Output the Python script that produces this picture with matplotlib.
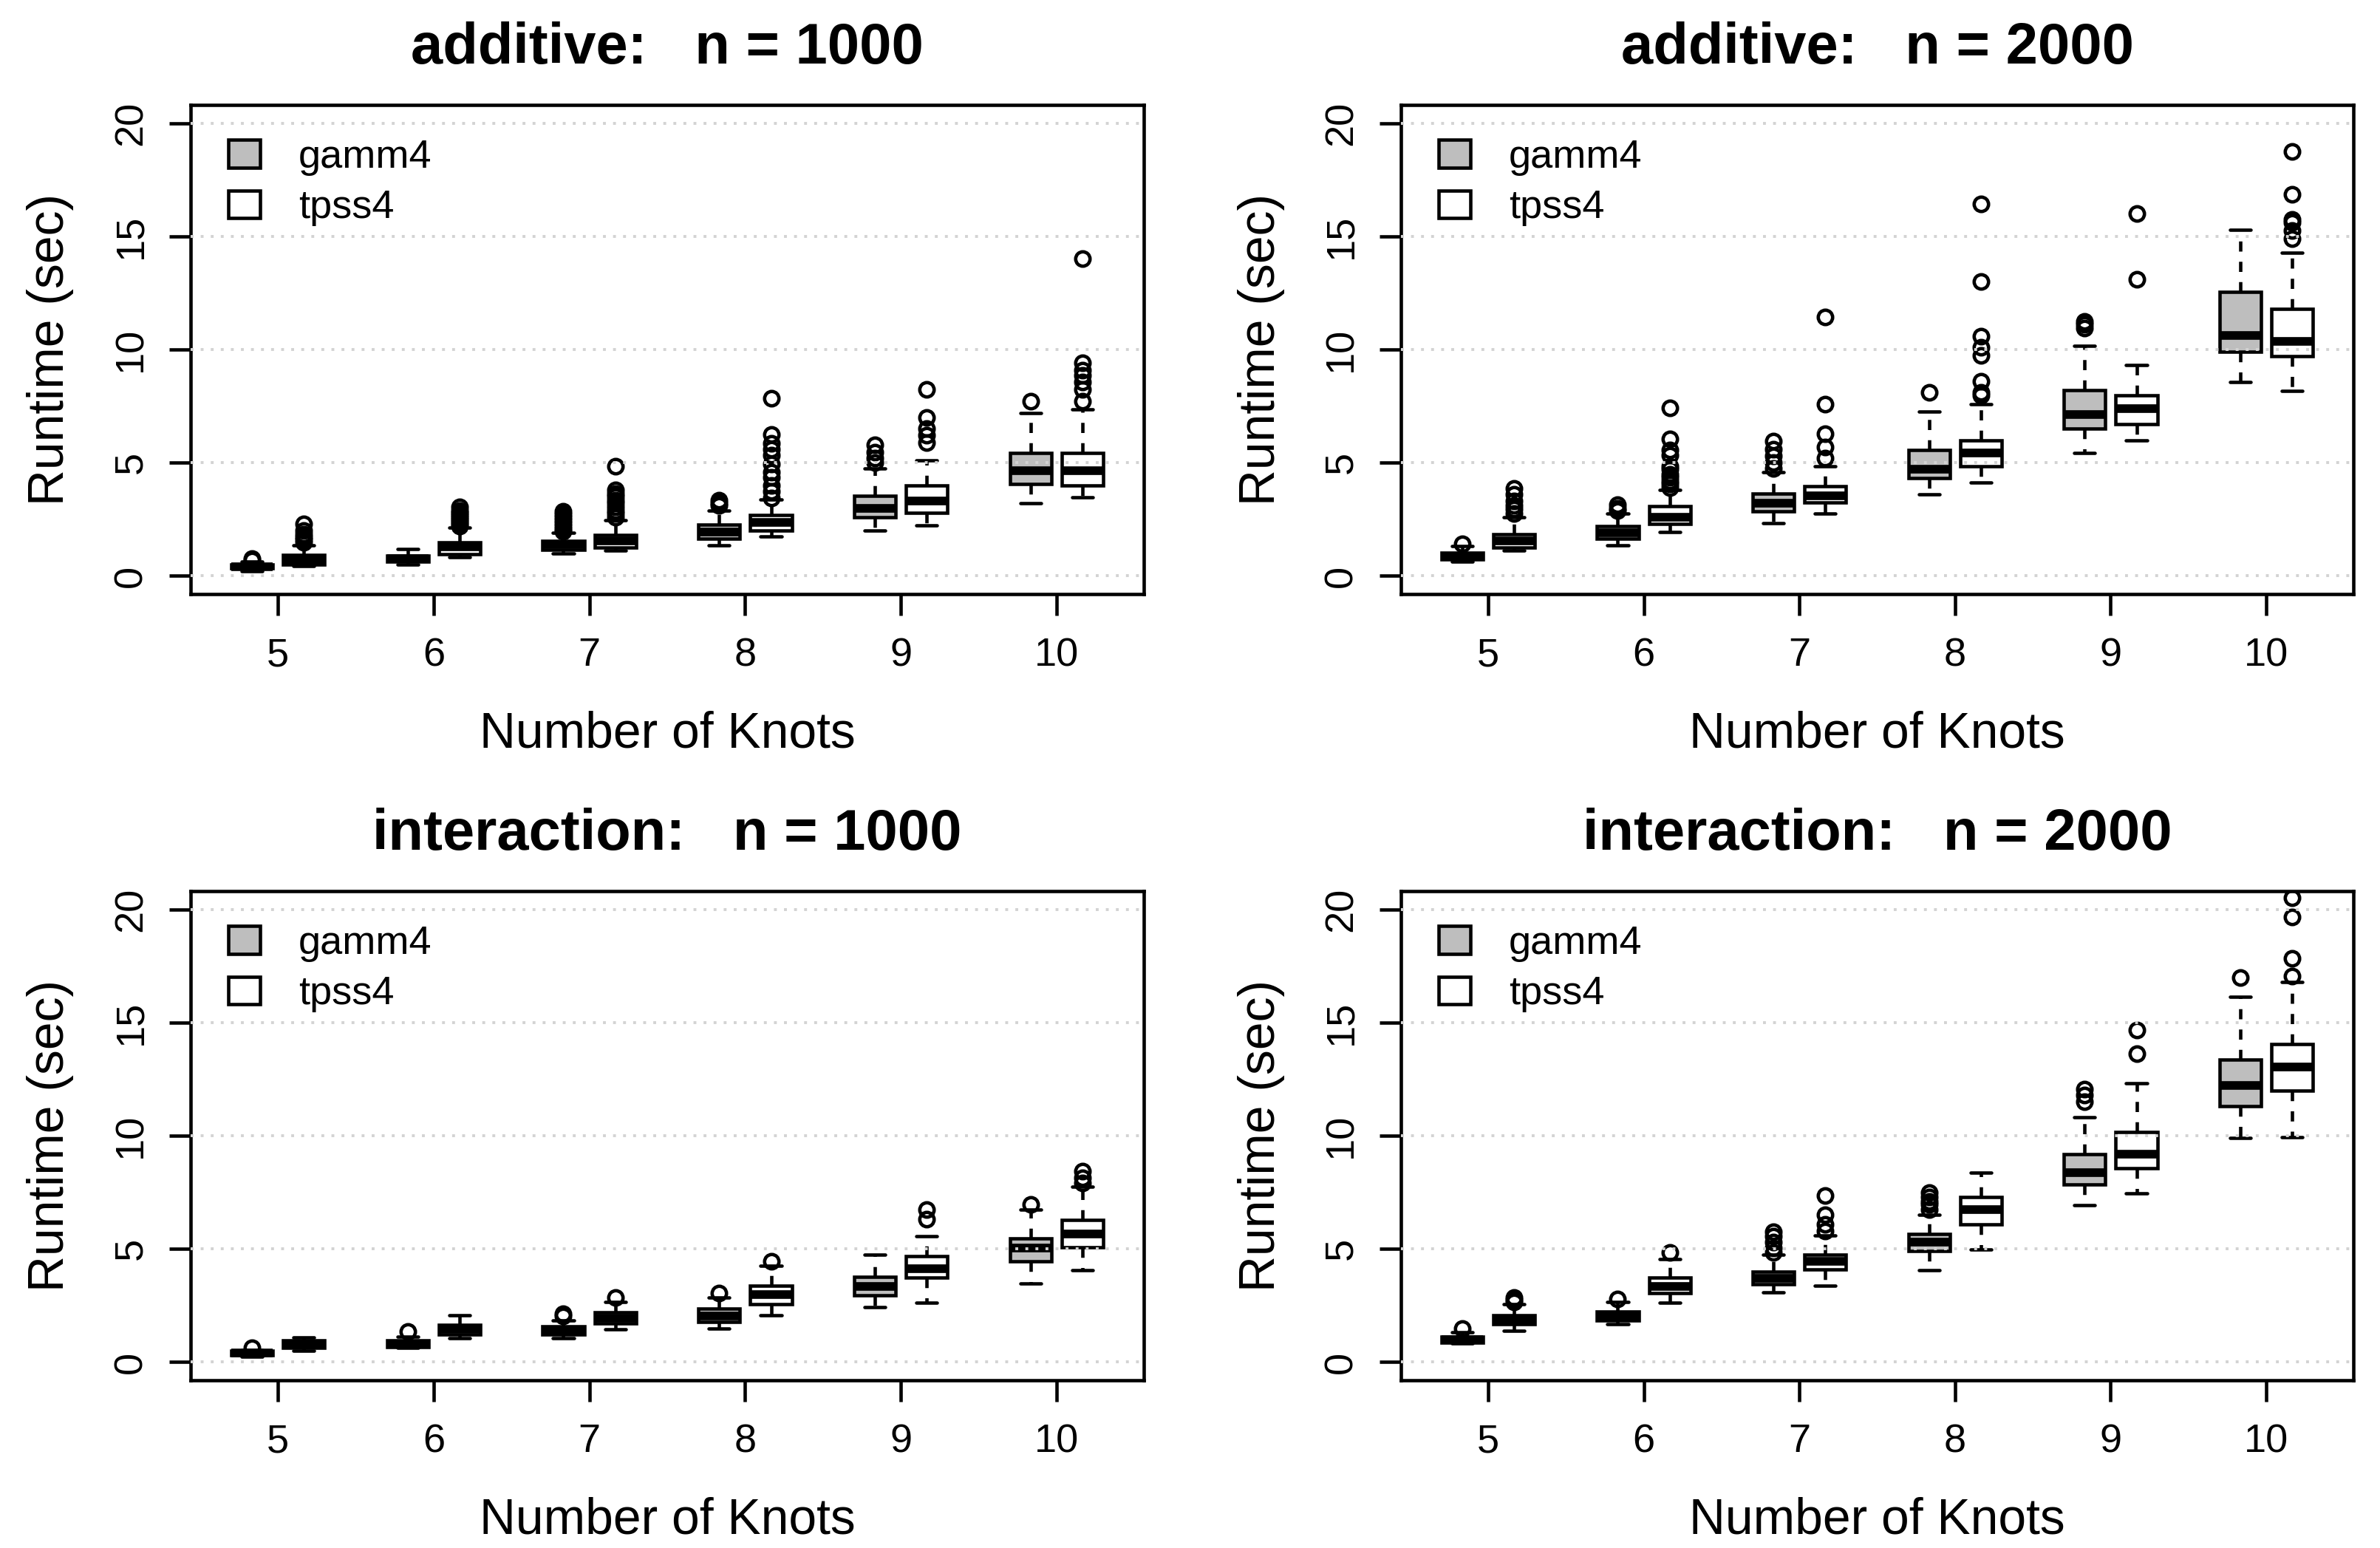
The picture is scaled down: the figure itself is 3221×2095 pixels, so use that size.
import matplotlib

matplotlib.use("Agg")
import matplotlib.pyplot as plt
from matplotlib.patches import Patch

plt.rcParams["font.family"] = ["Liberation Sans", "DejaVu Sans"]

W, H, DPI = 3221, 2095, 200

knots = [5, 6, 7, 8, 9, 10]
methods = ["gamm4", "tpss4"]
fills = ["#bebebe", "white"]
yticks = [0, 5, 10, 15, 20]

# per knot: (lower whisker, q1, median, q3, upper whisker)
add1000_gamm4 = [(0.22, 0.33, 0.40, 0.50, 0.62), (0.50, 0.62, 0.75, 0.90, 1.18),
                 (0.98, 1.17, 1.38, 1.55, 1.92), (1.35, 1.65, 1.95, 2.28, 2.90),
                 (2.00, 2.58, 3.00, 3.55, 4.75), (3.20, 4.05, 4.65, 5.42, 7.20)]
add1000_gamm4_out = [[0.70, 0.75], [], [1.98, 2.08, 2.2, 2.32, 2.45, 2.6, 2.72, 2.85],
                     [3.1, 3.2, 3.35], [5.0, 5.2, 5.45, 5.8], [7.7]]
add1000_tpss4 = [(0.45, 0.50, 0.70, 0.92, 1.35), (0.82, 0.95, 1.30, 1.50, 2.15),
                 (1.13, 1.25, 1.55, 1.80, 2.45), (1.74, 2.00, 2.35, 2.70, 3.37),
                 (2.24, 2.80, 3.30, 4.00, 5.10), (3.47, 4.00, 4.65, 5.42, 7.35)]
add1000_tpss4_out = [[1.5, 1.6, 1.7, 1.85, 2.0, 2.3],
                     [2.2, 2.3, 2.4, 2.5, 2.6, 2.7, 2.8, 2.9, 3.05],
                     [2.6, 2.75, 2.9, 3.05, 3.2, 3.35, 3.5, 3.65, 3.8, 4.85],
                     [3.45, 3.72, 4.0, 4.35, 4.6, 4.95, 5.35, 5.6, 5.85, 6.25, 7.85],
                     [5.9, 6.2, 6.5, 7.0, 8.25],
                     [7.7, 8.25, 8.55, 8.85, 9.1, 9.4, 14.0]]

add2000_gamm4 = [(0.64, 0.72, 0.88, 1.02, 1.32), (1.36, 1.64, 1.90, 2.19, 2.76),
                 (2.34, 2.87, 3.20, 3.65, 4.57), (3.60, 4.33, 4.70, 5.56, 7.26),
                 (5.42, 6.51, 7.12, 8.20, 10.16), (8.58, 9.91, 10.63, 12.54, 15.30)]
add2000_gamm4_out = [[1.42], [2.9, 3.0, 3.15], [4.75, 5.0, 5.3, 5.6, 5.95],
                     [8.1], [10.95, 11.1, 11.25], []]
add2000_tpss4 = [(1.13, 1.25, 1.55, 1.85, 2.59), (1.93, 2.31, 2.60, 3.09, 3.79),
                 (2.76, 3.23, 3.55, 3.96, 4.85), (4.12, 4.85, 5.42, 5.99, 7.59),
                 (5.99, 6.70, 7.40, 7.97, 9.31), (8.18, 9.71, 10.37, 11.79, 14.27)]
add2000_tpss4_out = [[2.75, 2.95, 3.1, 3.3, 3.6, 3.85],
                     [3.9, 4.05, 4.2, 4.35, 4.5, 4.7, 4.85, 5.35, 5.55, 6.05, 7.43],
                     [5.2, 5.7, 6.27, 7.6, 11.44],
                     [7.97, 8.1, 8.6, 9.74, 10.1, 10.6, 13.0, 16.43],
                     [13.09, 16.0],
                     [14.9, 15.26, 15.6, 15.75, 16.86, 18.75]]

int1000_gamm4 = [(0.25, 0.30, 0.40, 0.52, 0.55), (0.62, 0.68, 0.80, 0.95, 1.12),
                 (1.07, 1.22, 1.40, 1.57, 1.85), (1.50, 1.78, 2.05, 2.35, 2.85),
                 (2.42, 2.94, 3.34, 3.76, 4.75), (3.48, 4.44, 5.04, 5.46, 6.75)]
int1000_gamm4_out = [[0.65], [1.35], [2.05, 2.15], [3.05], [], [6.95]]
int1000_tpss4 = [(0.50, 0.62, 0.80, 0.95, 1.10), (1.07, 1.22, 1.45, 1.64, 2.07),
                 (1.46, 1.71, 1.95, 2.20, 2.65), (2.07, 2.56, 2.98, 3.38, 4.25),
                 (2.63, 3.72, 4.14, 4.68, 5.57), (4.05, 5.06, 5.67, 6.27, 7.75)]
int1000_tpss4_out = [[], [], [2.85], [4.45], [6.3, 6.75], [7.9, 8.15, 8.45]]

int2000_gamm4 = [(0.82, 0.88, 1.00, 1.12, 1.32), (1.67, 1.85, 2.05, 2.25, 2.65),
                 (3.08, 3.44, 3.69, 4.00, 4.75), (4.05, 4.90, 5.30, 5.67, 6.50),
                 (6.94, 7.86, 8.36, 9.20, 10.80), (9.89, 11.30, 12.22, 13.35, 16.14)]
int2000_gamm4_out = [[1.5], [2.8], [4.85, 5.05, 5.3, 5.55, 5.75],
                     [6.75, 6.95, 7.1, 7.3, 7.5], [11.5, 11.8, 12.05], [16.99]]
int2000_tpss4 = [(1.39, 1.68, 1.85, 2.07, 2.55), (2.63, 3.06, 3.34, 3.73, 4.54),
                 (3.38, 4.09, 4.44, 4.75, 5.60), (4.97, 6.10, 6.73, 7.30, 8.36),
                 (7.44, 8.57, 9.20, 10.17, 12.32), (9.94, 12.00, 13.03, 14.05, 16.78)]
int2000_tpss4_out = [[2.65, 2.75, 2.85], [4.85], [5.8, 6.1, 6.5, 7.37], [],
                     [13.63, 14.65], [17.06, 17.84, 19.65, 20.52]]

titles = ["additive:   n = 1000", "additive:   n = 2000",
          "interaction:   n = 1000", "interaction:   n = 2000"]
panel_data = [
    [(add1000_gamm4, add1000_gamm4_out), (add1000_tpss4, add1000_tpss4_out)],
    [(add2000_gamm4, add2000_gamm4_out), (add2000_tpss4, add2000_tpss4_out)],
    [(int1000_gamm4, int1000_gamm4_out), (int1000_tpss4, int1000_tpss4_out)],
    [(int2000_gamm4, int2000_gamm4_out), (int2000_tpss4, int2000_tpss4_out)],
]

# axes boxes in pixels: left, top, right, bottom
rects = [(258, 142, 1548, 804), (1896, 142, 3185, 804),
         (258, 1206, 1548, 1868), (1896, 1206, 3185, 1868)]

LW = 1.65


def _stats(five, out):
    return [dict(whislo=lo, q1=q1, med=med, q3=q3, whishi=hi, fliers=fl)
            for (lo, q1, med, q3, hi), fl in zip(five, out)]


def _panel(ax, title, data):
    for j, ((five, out), fill) in enumerate(zip(data, fills)):
        pos = [3 * i + 1 + j for i in range(len(knots))]
        ax.bxp(_stats(five, out), positions=pos, widths=0.8, capwidths=0.4,
               patch_artist=True, manage_ticks=False,
               boxprops=dict(facecolor=fill, edgecolor="black", linewidth=LW,
                             joinstyle="miter"),
               whiskerprops=dict(color="black", linewidth=LW,
                                 linestyle=(0, (3.0, 3.0))),
               capprops=dict(color="black", linewidth=LW, solid_capstyle="round"),
               medianprops=dict(color="black", linewidth=4.2, solid_capstyle="butt"),
               flierprops=dict(marker="o", markerfacecolor="none",
                               markeredgecolor="black", markersize=7.0,
                               markeredgewidth=LW, linestyle="none"))
    for y in yticks:
        ax.axhline(y, color="#d3d3d3", lw=1.4, ls=(0, (1, 2.5)), zorder=5)

    ax.set_xlim(-0.18, 18.18)
    ax.set_ylim(-0.8, 20.8)
    ax.set_xticks([3 * i + 1.5 for i in range(len(knots))], [str(k) for k in knots])
    ax.set_yticks(yticks, [str(y) for y in yticks])
    ax.tick_params(length=10.4, width=LW, labelsize=19.5)
    ax.tick_params(axis="x", pad=10.5)
    ax.tick_params(axis="y", pad=9.5, labelrotation=90)
    for lab in ax.get_yticklabels():
        lab.set_va("center")
    for s in ax.spines.values():
        s.set_linewidth(LW)

    ax.set_title(title, fontsize=28, fontweight="bold", y=1 + 56 / 662, pad=0)
    ax.set_xlabel("Number of Knots", fontsize=24.4)
    ax.xaxis.label.set_va("baseline")
    ax.xaxis.set_label_coords(0.5, -208 / 662)
    ax.set_ylabel("Runtime (sec)", fontsize=24.4)
    ax.yaxis.label.set_va("center")
    ax.yaxis.set_label_coords(-0.147, 0.5)

    handles = [Patch(facecolor=f, edgecolor="black", linewidth=LW) for f in fills]
    ax.legend(handles, methods, loc="upper left", bbox_to_anchor=(0, 1 + 5 / 662),
              frameon=False, fontsize=19.5, handlelength=0.8, handleheight=0.68,
              handletextpad=0.95, borderpad=0.94, borderaxespad=0,
              labelspacing=0.34)


fig = plt.figure(figsize=(W / DPI, H / DPI), dpi=DPI)
for (l, t, r, b), title, data in zip(rects, titles, panel_data):
    ax = fig.add_axes([l / W, (H - b) / H, (r - l) / W, (b - t) / H])
    _panel(ax, title, data)

fig.savefig("out.png", dpi=DPI)
